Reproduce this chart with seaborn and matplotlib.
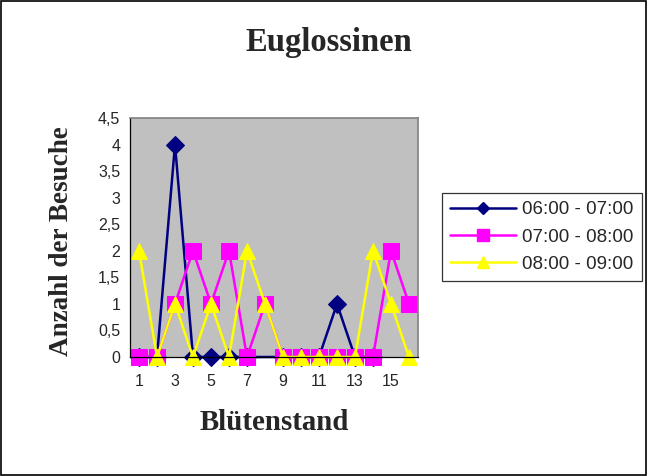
import numpy as np
import pandas as pd
import matplotlib
matplotlib.use("Agg")
import matplotlib.pyplot as plt
from matplotlib.patches import Rectangle
from matplotlib.lines import Line2D
from matplotlib.ticker import FixedLocator
import seaborn as sns

# data
categories = list(range(1, 17))
series_names = ["06:00 - 07:00", "07:00 - 08:00", "08:00 - 09:00"]
visits_06 = [0, 0, 4, 0, 0, 0, 0, np.nan, 0, 0, 0, 1, 0, 0, np.nan, np.nan]
visits_07 = [0, 0, 1, 2, 1, 2, 0, 1, 0, 0, 0, 0, 0, 0, 2, 1]
visits_08 = [2, 0, 1, 0, 1, 0, 2, 1, 0, 0, 0, 0, 0, 2, 1, 0]
y_ticks = [0, 0.5, 1, 1.5, 2, 2.5, 3, 3.5, 4, 4.5]
y_tick_labels = ["0", "0,5", "1", "1,5", "2", "2,5", "3", "3,5", "4", "4,5"]
x_tick_labels = ["1", "3", "5", "7", "9", "11", "13", "15"]

colors = ["#000080", "#FF00FF", "#FFFF00"]
markers = ["D", "s", "^"]
marker_sizes = [9, 11.5, 11.5]

frames = []
for name, vals in zip(series_names, [visits_06, visits_07, visits_08]):
    frames.append(pd.DataFrame({"Blütenstand": categories, "Besuche": vals, "Zeit": name}))
df = pd.concat(frames, ignore_index=True).dropna()

sns.set_style("white")
plt.rcParams["font.family"] = ["Liberation Sans", "DejaVu Sans"]

fig = plt.figure(figsize=(6.47, 4.76), dpi=100)
ax = fig.add_axes([130 / 647, 1 - 357 / 476, 288 / 647, 239 / 476])
ax.set_facecolor("#C0C0C0")

sns.lineplot(data=df, x="Blütenstand", y="Besuche", hue="Zeit", style="Zeit",
             hue_order=series_names, style_order=series_names,
             palette=colors, markers=markers, dashes=False,
             linewidth=1.8, legend=False, ax=ax)

lines = ax.get_lines()[:3]
for line, c, ms in zip(lines, colors, marker_sizes):
    line.set_markersize(ms)
    line.set_markeredgecolor(c)
    line.set_markerfacecolor(c)
    line.set_clip_on(False)

ax.set_xlim(0.5, 16.5)
ax.set_ylim(0, 4.5)
ax.set_yticks(y_ticks)
ax.set_yticklabels(y_tick_labels, fontsize=11.5)
ax.set_xticks(categories[::2])
ax.set_xticklabels(x_tick_labels, fontsize=11.5)
ax.xaxis.set_minor_locator(FixedLocator(np.arange(0.5, 17, 1)))
ax.tick_params(axis="x", which="major", length=0, pad=12)
ax.tick_params(axis="x", which="minor", length=4, direction="out", color="black", width=0.8)
ax.tick_params(axis="y", length=4, direction="out", color="black", width=0.8, pad=3)
ax.set_xlabel("")
ax.set_ylabel("")

for side in ["top", "right"]:
    ax.spines[side].set_color("#808080")
    ax.spines[side].set_linewidth(1.2)
for side in ["left", "bottom"]:
    ax.spines[side].set_color("black")
    ax.spines[side].set_linewidth(0.9)

serif = ["Liberation Serif", "DejaVu Serif"]
fig.text(0.508, 1 - 42 / 476, "Euglossinen", ha="center", va="center",
         fontsize=23.5, fontweight="bold", family=serif)
fig.text(274 / 647, 1 - 422 / 476, "Blütenstand", ha="center", va="center",
         fontsize=20.8, fontweight="bold", family=serif)
fig.text(62 / 647, 1 - 241 / 476, "Anzahl der Besuche", ha="center", va="center",
         rotation=90, fontsize=19.5, fontweight="bold", family=serif)

# legend handles with the smaller markers of the reference
handles = [Line2D([], [], color=c, marker=m, markersize=s, markeredgecolor=c, linewidth=1.8)
           for c, m, s in zip(colors, markers, [6.5, 8, 8])]
leg = fig.legend(handles, series_names, loc="center left",
                 bbox_to_anchor=(442 / 647, 1 - 237 / 476),
                 fontsize=13.5, frameon=True, fancybox=False, handlelength=3.5,
                 borderpad=0.45, labelspacing=0.55, handletextpad=0.3,
                 borderaxespad=0)
leg.get_frame().set_edgecolor("black")
leg.get_frame().set_linewidth(0.9)

# outer chart border
fig.patches.append(Rectangle((0.002, 0.002), 0.996, 0.996, transform=fig.transFigure,
                             fill=False, edgecolor="black", linewidth=1.2))

fig.savefig("out.png", dpi=100)
